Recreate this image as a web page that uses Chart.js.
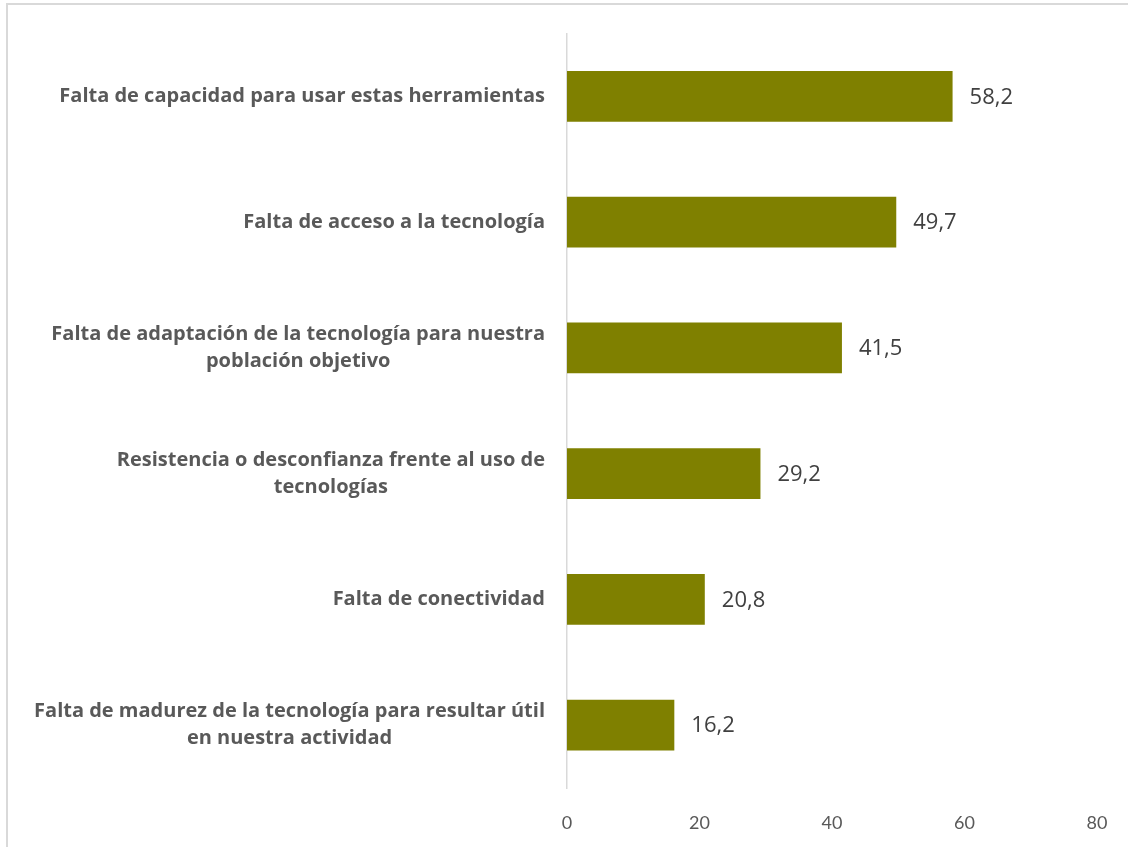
<!DOCTYPE html>
<html>
<head>
<meta charset="utf-8">
<script src="https://cdn.jsdelivr.net/npm/chart.js@4/dist/chart.umd.min.js"></script>
<style>
  html, body { margin: 0; padding: 0; background: #fff; }
  #frame {
    position: absolute; left: 6px; top: 3px; width: 1200px; height: 900px;
    border-left: 2px solid #d9d9d9; border-top: 2px solid #d9d9d9;
  }
  #wrap { position: absolute; left: 0; top: 0; width: 1128px; height: 847px; }
</style>
</head>
<body>
<div id="frame"></div>
<div id="wrap"><canvas id="chart" width="1128" height="847"></canvas></div>
<script>
const categories = [
  ["Falta de capacidad para usar estas herramientas"],
  ["Falta de acceso a la tecnología"],
  ["Falta de adaptación de la tecnología para nuestra", "población objetivo"],
  ["Resistencia o desconfianza frente al uso de", "tecnologías"],
  ["Falta de conectividad"],
  ["Falta de madurez de la tecnología para resultar útil", "en nuestra actividad"],
];
const values = [58.2, 49.7, 41.5, 29.2, 20.8, 16.2];
const xMin = 0;
const xMax = 80;
const xStep = 20;

const LABEL_FONT = "bold 20px 'Open Sans'";
const VALUE_FONT = "22px 'Open Sans'";

// category labels: block right aligned, lines centered inside block
const catLabels = {
  id: "catLabels",
  afterDraw(chart) {
    const ctx = chart.ctx;
    const ys = chart.scales.y;
    const right = ys.right - 22;
    const lineH = 27;
    ctx.save();
    ctx.font = LABEL_FONT;
    ctx.fillStyle = "#595959";
    ctx.textAlign = "center";
    ctx.textBaseline = "middle";
    categories.forEach((lines, i) => {
      const cy = ys.getPixelForTick(i);
      const w = Math.max(...lines.map((l) => ctx.measureText(l).width));
      const cx = right - w / 2;
      lines.forEach((l, j) => {
        ctx.fillText(l, cx, cy + (j - (lines.length - 1) / 2) * lineH);
      });
    });
    ctx.restore();
  },
};

const valueLabels = {
  id: "valueLabels",
  afterDatasetsDraw(chart) {
    const ctx = chart.ctx;
    const meta = chart.getDatasetMeta(0);
    ctx.save();
    ctx.font = VALUE_FONT;
    ctx.fillStyle = "#404040";
    ctx.textAlign = "left";
    ctx.textBaseline = "middle";
    meta.data.forEach((bar, i) => {
      ctx.fillText(values[i].toFixed(1).replace(".", ","), bar.x + 17, bar.y + 1);
    });
    ctx.restore();
  },
};

new Chart(document.getElementById("chart"), {
  type: "bar",
  data: {
    labels: categories.map((c) => c.join(" ")),
    datasets: [
      {
        data: values,
        backgroundColor: "#7f8000",
        barPercentage: 0.405,
        categoryPercentage: 1,
      },
    ],
  },
  options: {
    indexAxis: "y",
    responsive: false,
    animation: false,
    layout: { padding: { top: 33.5, right: 31, bottom: 0, left: 0 } },
    plugins: { legend: { display: false }, tooltip: { enabled: false } },
    scales: {
      x: {
        min: xMin,
        max: xMax,
        grid: { display: false },
        border: { display: false },
        ticks: {
          stepSize: xStep,
          padding: 16,
          color: "#595959",
          font: { family: "Lato", size: 18 },
          maxRotation: 0,
        },
        afterFit(scale) { scale.height = 59; },
      },
      y: {
        grid: { display: false, drawTicks: false },
        border: { display: true, color: "#d9d9d9", width: 1.5 },
        ticks: { display: false },
        afterFit(scale) { scale.width = 567; },
      },
    },
  },
  plugins: [catLabels, valueLabels],
});
</script>
</body>
</html>
